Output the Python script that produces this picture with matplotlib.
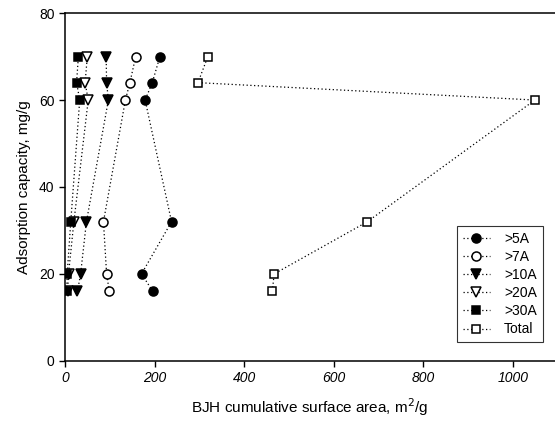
import matplotlib.pyplot as plt

# adsorption capacity levels (mg/g), shared by all series
capacity = [16, 20, 32, 60, 64, 70]

# BJH cumulative surface area (m2/g) for each pore-size cut
area_5A = [196, 171, 238, 179, 195, 212]
area_7A = [99, 93, 86, 135, 145, 158]
area_10A = [28, 35, 48, 97, 93, 92]
area_20A = [6, 8, 20, 52, 45, 50]
area_30A = [4, 5, 13, 33, 26, 30]
area_total = [463, 467, 675, 1049, 297, 319]

series = [
    (area_5A, ">5A", "o", "black"),
    (area_7A, ">7A", "o", "white"),
    (area_10A, ">10A", "v", "black"),
    (area_20A, ">20A", "v", "white"),
    (area_30A, ">30A", "s", "black"),
    (area_total, "Total", "s", "white"),
]

plt.rcParams['font.family'] = ['Liberation Sans', 'DejaVu Sans']

fig = plt.figure(figsize=(5.55, 4.23), dpi=100)
ax = fig.add_axes([0.117, 0.147, 0.883, 0.822])

for x, lbl, mk, fc in series:
    ms = 5.5 if mk == "s" else 6.5
    ax.plot(x, capacity, color="black", linestyle=(0, (1, 2)), linewidth=0.9,
            marker=mk, markersize=ms, mfc=fc, mec="black", mew=1.1, label=lbl)

ax.set_xlim(0, 1094)
ax.set_ylim(0, 80)
ax.set_xticks([0, 200, 400, 600, 800, 1000])
ax.set_yticks([0, 20, 40, 60, 80])
for t in ax.get_xticklabels():
    t.set_fontstyle("italic")
ax.tick_params(axis="both", direction="out", length=4, width=1, labelsize=10)
ax.spines["right"].set_visible(False)
for s in ["left", "bottom", "top"]:
    ax.spines[s].set_linewidth(1.1)

ax.set_xlabel("BJH cumulative surface area, m$^2$/g", fontsize=11, labelpad=8)
ax.set_ylabel("Adsorption capacity, mg/g", fontsize=11, labelpad=6)

leg = ax.legend(loc="upper left", bbox_to_anchor=(457 / 555, 1 - 226 / 423),
                bbox_transform=fig.transFigure, borderaxespad=0, fontsize=10,
                frameon=True, fancybox=False, edgecolor="black",
                handlelength=2.0, labelspacing=0.3, borderpad=0.4,
                handletextpad=1.0)
leg.get_frame().set_linewidth(0.8)

fig.savefig("out.png", dpi=100)
